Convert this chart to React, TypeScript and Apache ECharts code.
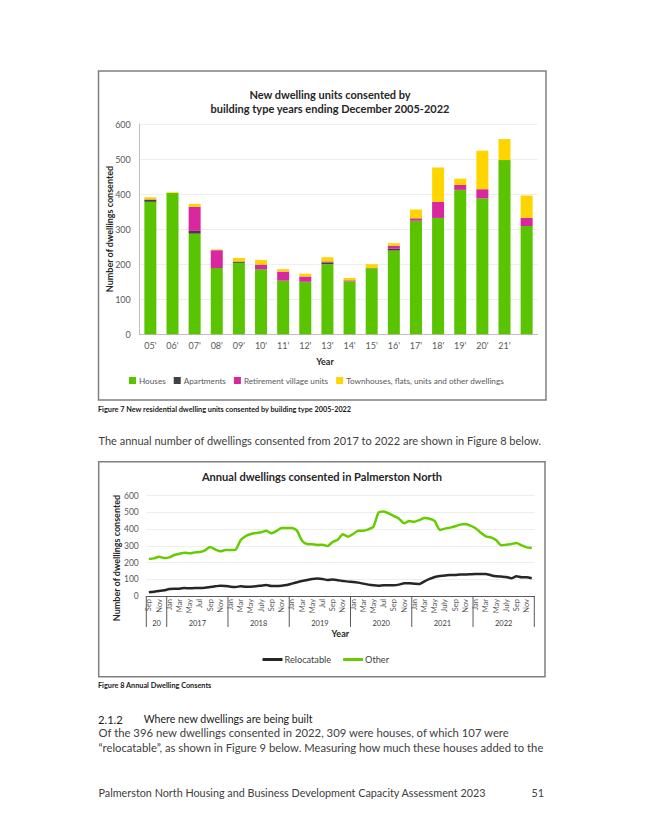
import React, { useEffect, useRef } from "react";
import * as echarts from "echarts";

// ---------- Figure 7 data ----------
const barCategories = ["05'", "06'", "07'", "08'", "09'", "10'", "11'", "12'", "13'", "14'", "15'", "16'", "17'", "18'", "19'", "20'", "21'", ""];
const houses = [378, 403, 287, 189, 204, 185, 153, 149, 200, 151, 188, 239, 324, 332, 412, 388, 497, 309];
const apartments = [6, 0, 8, 0, 3, 1, 0, 1, 5, 0, 1, 5, 0, 0, 0, 0, 0, 0];
const retirement = [1, 0, 69, 51, 1, 13, 26, 15, 3, 3, 0, 9, 7, 46, 14, 26, 0, 23];
const townhouses = [6, 2, 8, 2, 10, 13, 7, 8, 12, 7, 11, 7, 25, 98, 18, 110, 60, 64];

// ---------- Figure 8 data ----------
const monthNames = ["Jan", "Feb", "Mar", "Apr", "May", "Jun", "Jul", "Aug", "Sep", "Oct", "Nov", "Dec"];
const yearLabels = ["20", "2017", "2018", "2019", "2020", "2021", "2022"];
const yearStartMonth = [8, 0, 0, 0, 0, 0, 0];
const yearsWithJuly = ["2018", "2021", "2022"];
const relocatable = [
  22, 26, 30, 34,
  42, 44, 44, 48, 46, 48, 48, 50, 54, 58, 62, 60,
  56, 54, 58, 56, 56, 58, 62, 66, 60, 60, 62, 66,
  74, 82, 90, 96, 102, 104, 102, 96, 98, 94, 90, 86,
  84, 80, 74, 68, 64, 62, 64, 64, 64, 68, 76, 76,
  74, 72, 88, 102, 114, 120, 122, 126, 126, 128, 128, 130,
  132, 132, 132, 124, 118, 116, 114, 106, 118, 112, 112, 106,
];
const other = [
  221, 225, 235, 227,
  231, 245, 253, 259, 255, 261, 263, 273, 293, 279, 267, 275,
  275, 277, 335, 359, 371, 377, 381, 391, 375, 389, 407, 407,
  407, 391, 331, 311, 309, 305, 307, 299, 323, 337, 369, 355,
  371, 391, 391, 399, 415, 500, 506, 494, 478, 462, 435, 448,
  444, 454, 466, 462, 448, 395, 403, 409, 417, 427, 431, 421,
  405, 379, 357, 351, 335, 303, 307, 311, 317, 303, 291, 287,
];

const monthCategories: string[] = [];
const yearGroups: number[][] = [];
yearLabels.forEach((y, yi) => {
  const start = monthCategories.length;
  for (let m = yearStartMonth[yi]; m < 12; m++) {
    let name = monthNames[m];
    if (m === 6 && yearsWithJuly.indexOf(y) >= 0) name = "July";
    monthCategories.push(name);
  }
  yearGroups.push([start, monthCategories.length - 1, yi]);
});

const FONT = "Lato";
const GREEN = "#5BC400";
const DARK = "#404040";
const PINK = "#D9289F";
const YELLOW = "#FFD500";

export default function App() {
  const ref = useRef<HTMLDivElement>(null);
  useEffect(() => {
    if (!ref.current) return;
    const chart = echarts.init(ref.current, undefined, { renderer: "svg" });
    const txt = (text: string, x: number, y: number, size: number, opts: any = {}) => ({
      type: "text",
      x,
      y,
      style: {
        text,
        fontFamily: FONT,
        fontSize: size,
        fill: opts.fill || "#404040",
        fontWeight: opts.bold ? "bold" : "normal",
        align: opts.align || "left",
        verticalAlign: "middle",
      },
      rotation: opts.rotation || 0,
    });
    const option: any = {
      animation: false,
      textStyle: { fontFamily: FONT },
      title: [
        {
          text: "New dwelling units consented by\nbuilding type years ending December 2005-2022",
          left: 330,
          top: 87,
          textAlign: "center",
          padding: 0,
          textStyle: { fontFamily: FONT, fontSize: 11, fontWeight: "bold", color: "#262626", lineHeight: 14 },
        },
        {
          text: "Annual dwellings consented in Palmerston North",
          left: 322,
          top: 471,
          textAlign: "center",
          padding: 0,
          textStyle: { fontFamily: FONT, fontSize: 11.1, fontWeight: "bold", color: "#262626" },
        },
      ],
      legend: [
        {
          data: ["Houses", "Apartments", "Retirement village units", "Townhouses, flats, units and other dwellings"],
          left: 129,
          top: 376.5,
          padding: 0,
          icon: "rect",
          itemWidth: 7,
          itemHeight: 7,
          itemGap: 8,
          textStyle: { fontFamily: FONT, fontSize: 8.2, color: "#595959", padding: [0, 0, 0, -2] },
        },
        {
          data: ["Relocatable", "Other"],
          left: 262.5,
          top: 655,
          padding: 0,
          icon: "rect",
          itemWidth: 20,
          itemHeight: 3,
          itemGap: 12,
          textStyle: { fontFamily: FONT, fontSize: 9.2, color: "#404040", padding: [0, 0, 0, -3] },
        },
      ],
      grid: [
        { left: 139.3, top: 124, width: 398.4, height: 210.3, containLabel: false },
        { left: 146.3, top: 495.7, width: 388, height: 100.3, containLabel: false },
      ],
      xAxis: [
        {
          type: "category",
          gridIndex: 0,
          data: barCategories,
          axisLine: { lineStyle: { color: "#bfbfbf", width: 1 } },
          axisTick: { show: false },
          axisLabel: { fontFamily: FONT, fontSize: 9, color: "#595959", margin: 7, interval: 0 },
          name: "Year",
          nameLocation: "middle",
          nameGap: 23,
          nameTextStyle: { fontFamily: FONT, fontSize: 9, fontWeight: "bold", color: "#262626", padding: [0, 27, 0, 0] },
        },
        {
          type: "category",
          gridIndex: 1,
          data: monthCategories,
          axisLine: { lineStyle: { color: "#595959", width: 1 } },
          axisTick: { show: false },
          axisLabel: { fontFamily: FONT, fontSize: 7.5, color: "#595959", margin: 3, interval: 1, rotate: 90 },
          name: "Year",
          nameLocation: "middle",
          nameGap: 33,
          nameTextStyle: { fontFamily: FONT, fontSize: 9, fontWeight: "bold", color: "#262626" },
        },
      ],
      yAxis: [
        {
          type: "value",
          gridIndex: 0,
          min: 0,
          max: 600,
          interval: 100,
          axisLine: { show: true, lineStyle: { color: "#bfbfbf" } },
          axisTick: { show: false },
          splitLine: { lineStyle: { color: "#eeeeee" } },
          axisLabel: { fontFamily: FONT, fontSize: 9, color: "#595959", margin: 8.5 },
        },
        {
          type: "value",
          gridIndex: 1,
          min: 0,
          max: 600,
          interval: 100,
          axisLine: { show: false },
          axisTick: { show: false },
          splitLine: { lineStyle: { color: "#eeeeee" } },
          axisLabel: { fontFamily: FONT, fontSize: 8.5, color: "#595959", margin: 7.5 },
        },
      ],
      series: [
        { name: "Houses", type: "bar", stack: "a", xAxisIndex: 0, yAxisIndex: 0, barWidth: 12, data: houses, itemStyle: { color: GREEN } },
        { name: "Apartments", type: "bar", stack: "a", xAxisIndex: 0, yAxisIndex: 0, barWidth: 12, data: apartments, itemStyle: { color: DARK } },
        { name: "Retirement village units", type: "bar", stack: "a", xAxisIndex: 0, yAxisIndex: 0, barWidth: 12, data: retirement, itemStyle: { color: PINK } },
        { name: "Townhouses, flats, units and other dwellings", type: "bar", stack: "a", xAxisIndex: 0, yAxisIndex: 0, barWidth: 12, data: townhouses, itemStyle: { color: YELLOW } },
        {
          name: "Relocatable",
          type: "line",
          xAxisIndex: 1,
          yAxisIndex: 1,
          data: relocatable,
          symbol: "none",
          smooth: 0.2,
          color: "#262626",
          lineStyle: { width: 2.5, color: "#262626" },
        },
        {
          name: "Other",
          type: "line",
          xAxisIndex: 1,
          yAxisIndex: 1,
          data: other,
          symbol: "none",
          smooth: 0.2,
          color: "#66CC00",
          lineStyle: { width: 2.5, color: "#66CC00" },
        },
        {
          name: "years",
          type: "custom",
          xAxisIndex: 1,
          yAxisIndex: 1,
          clip: false,
          silent: true,
          data: yearGroups,
          encode: { x: 0, y: 1 },
          renderItem: (params: any, api: any) => {
            const s = api.value(0);
            const e = api.value(1);
            const yi = api.value(2);
            const w = api.size([1, 0])[0];
            const p0 = api.coord([s, 0]);
            const p1 = api.coord([e, 0]);
            const x0 = p0[0] - w / 2;
            const x1 = p1[0] + w / 2;
            const y0 = p0[1];
            const children: any[] = [
              { type: "line", shape: { x1: x1, y1: y0, x2: x1, y2: y0 + 31 }, style: { stroke: "#595959", lineWidth: 1 } },
              {
                type: "text",
                x: (x0 + x1) / 2,
                y: y0 + 27,
                style: { text: yearLabels[yi], fontFamily: FONT, fontSize: 7.5, fill: "#404040", align: "center", verticalAlign: "middle" },
              },
            ];
            if (params.dataIndex === 0) {
              children.push({ type: "line", shape: { x1: x0, y1: y0, x2: x0, y2: y0 + 31 }, style: { stroke: "#595959", lineWidth: 1 } });
            }
            return { type: "group", children };
          },
        },
      ],
      graphic: [
        { type: "rect", shape: { x: 98.5, y: 71, width: 447.5, height: 329 }, style: { fill: "none", stroke: "#7f7f7f", lineWidth: 1.5 }, z: -1 },
        { type: "rect", shape: { x: 98.7, y: 461.7, width: 446.3, height: 215 }, style: { fill: "none", stroke: "#7f7f7f", lineWidth: 1.5 }, z: -1 },
        txt("Number of dwellings consented", 109, 229, 9, { bold: true, fill: "#262626", align: "center", rotation: Math.PI / 2 }),
        txt("Number of dwellings consented", 116.5, 558, 9, { bold: true, fill: "#262626", align: "center", rotation: Math.PI / 2 }),
        txt("Figure 7 New residential dwelling units consented by building type 2005-2022", 98, 409, 7.3, { bold: true, fill: "#1a1a1a" }),
        txt("The annual number of dwellings consented from 2017 to 2022 are shown in Figure 8 below.", 98.5, 440, 11.0, { fill: "#404040" }),
        txt("Figure 8 Annual Dwelling Consents", 98, 685, 7.3, { bold: true, fill: "#1a1a1a" }),
        txt("2.1.2", 98, 719, 11.2, { fill: "#1a1a1a" }),
        txt("Where new dwellings are being built", 143.7, 719, 10.6, { fill: "#1a1a1a" }),
        txt("Of the 396 new dwellings consented in 2022, 309 were houses, of which 107 were", 98.5, 732.5, 11.3, { fill: "#404040" }),
        txt("\u201Crelocatable\u201D, as shown in Figure 9 below. Measuring how much these houses added to the", 98.5, 747.5, 11.25, { fill: "#404040" }),
        txt("Palmerston North Housing and Business Development Capacity Assessment 2023", 98.5, 792, 10.8, { fill: "#404040" }),
        txt("51", 544, 792, 10.8, { fill: "#404040", align: "right" }),
      ],
    };
    chart.setOption(option);
    return () => chart.dispose();
  }, []);
  return <div ref={ref} style={{ position: "absolute", left: 0, top: 0, width: 645, height: 834, background: "#ffffff" }} />;
}
